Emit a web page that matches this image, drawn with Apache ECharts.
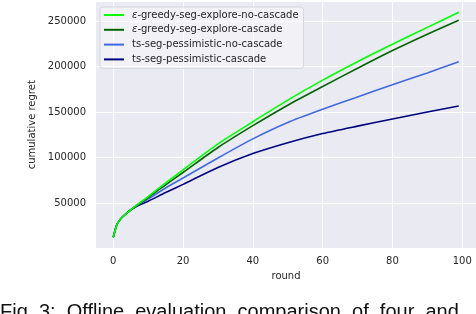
<!DOCTYPE html>
<html>
<head>
<meta charset="utf-8">
<script src="https://cdn.jsdelivr.net/npm/echarts@6/dist/echarts.min.js"></script>
<style>
  html, body { margin: 0; padding: 0; background: #fff; }
  #chart { width: 476px; height: 314px; }
</style>
</head>
<body>
<div id="chart"></div>
<script>
const rounds = [0, 1, 2, 3, 5, 7, 10, 15, 20, 30, 40, 50, 60, 70, 80, 90, 99];

const greedyNoCascade = [12300, 26000, 32000, 36000, 42500, 48500, 57000, 72000, 86500, 115000, 139300, 163000, 185000, 205300, 224400, 243000, 259600];
const greedyCascade   = [12300, 26000, 32000, 36000, 42500, 48200, 56000, 70000, 83500, 111000, 135000, 157500, 178000, 198000, 217500, 235500, 250800];
const tsNoCascade     = [12300, 26000, 32000, 36000, 42400, 47800, 54500, 66500, 77500, 99500, 120500, 138500, 153000, 166500, 180000, 193000, 205300];
const tsCascade       = [12300, 26000, 32000, 36000, 42300, 47000, 52000, 61500, 70500, 89000, 104300, 116200, 126300, 134500, 142300, 150000, 156600];

const names = [
  'ε-greedy-seg-explore-no-cascade',
  'ε-greedy-seg-explore-cascade',
  'ts-seg-pessimistic-no-cascade',
  'ts-seg-pessimistic-cascade'
];
const colors = ['#00ff00', '#006400', '#4169e1', '#000080'];
const xTicks = [0, 20, 40, 60, 80, 100];

const pair = (ys) => rounds.map((r, i) => [r, ys[i]]);
const allSeries = [greedyNoCascade, greedyCascade, tsNoCascade, tsCascade];

const chart = echarts.init(document.getElementById('chart'));
const font = 'DejaVu Sans';

chart.setOption({
  animation: false,
  color: colors,
  grid: { left: 96, right: 0, top: 1, bottom: 65.5, show: true, backgroundColor: '#eaeaf2', borderWidth: 0 },
  xAxis: {
    type: 'value',
    min: -4.95,
    max: 103.95,
    name: 'round',
    nameLocation: 'middle',
    nameGap: 23,
    nameTextStyle: { fontFamily: font, fontSize: 10, color: '#262626' },
    axisLine: { show: false },
    axisTick: { show: false, customValues: xTicks },
    axisLabel: { customValues: xTicks, fontFamily: font, fontSize: 10, color: '#262626', margin: 8 },
    splitLine: { show: true, lineStyle: { color: '#fff', width: 1 } }
  },
  yAxis: {
    type: 'value',
    min: 0,
    max: 272000,
    interval: 50000,
    name: 'cumulative regret',
    nameLocation: 'middle',
    nameGap: 58,
    nameTextStyle: { fontFamily: font, fontSize: 10, color: '#262626' },
    axisLine: { show: false },
    axisTick: { show: false },
    axisLabel: {
      fontFamily: font, fontSize: 10, color: '#262626', margin: 10,
      formatter: (v) => (v > 0 && v % 50000 === 0 ? String(v) : '')
    },
    splitLine: { show: true, lineStyle: { color: '#fff', width: 1 } }
  },
  legend: {
    orient: 'vertical',
    left: 100,
    top: 7,
    padding: [3, 5, 4, 4],
    itemGap: 4.8,
    itemWidth: 20,
    itemHeight: 2,
    icon: 'rect',
    backgroundColor: 'rgba(255,255,255,0.35)',
    borderColor: '#d6d6de',
    borderWidth: 1,
    borderRadius: 3,
    data: names,
    formatter: (n) => n.startsWith('ε') ? '{e|ε}' + n.slice(1) : n,
    textStyle: {
      fontFamily: font, fontSize: 10, color: '#262626', padding: [0, 0, 0, 3],
      rich: { e: { fontFamily: font, fontSize: 10, fontStyle: 'italic', color: '#262626' } }
    }
  },
  series: allSeries.map((ys, i) => ({
    name: names[i],
    type: 'line',
    data: pair(ys),
    smooth: 0.25,
    showSymbol: false,
    lineStyle: { width: 1.6, color: colors[i] },
    z: 10 - i
  })),
  graphic: [{
    type: 'text',
    left: 0,
    top: 302,
    style: {
      text: 'Fig. 3:  Offline  evaluation  comparison  of  four  and',
      font: '20px "Liberation Sans"',
      fill: '#111'
    }
  }]
});
</script>
</body>
</html>
